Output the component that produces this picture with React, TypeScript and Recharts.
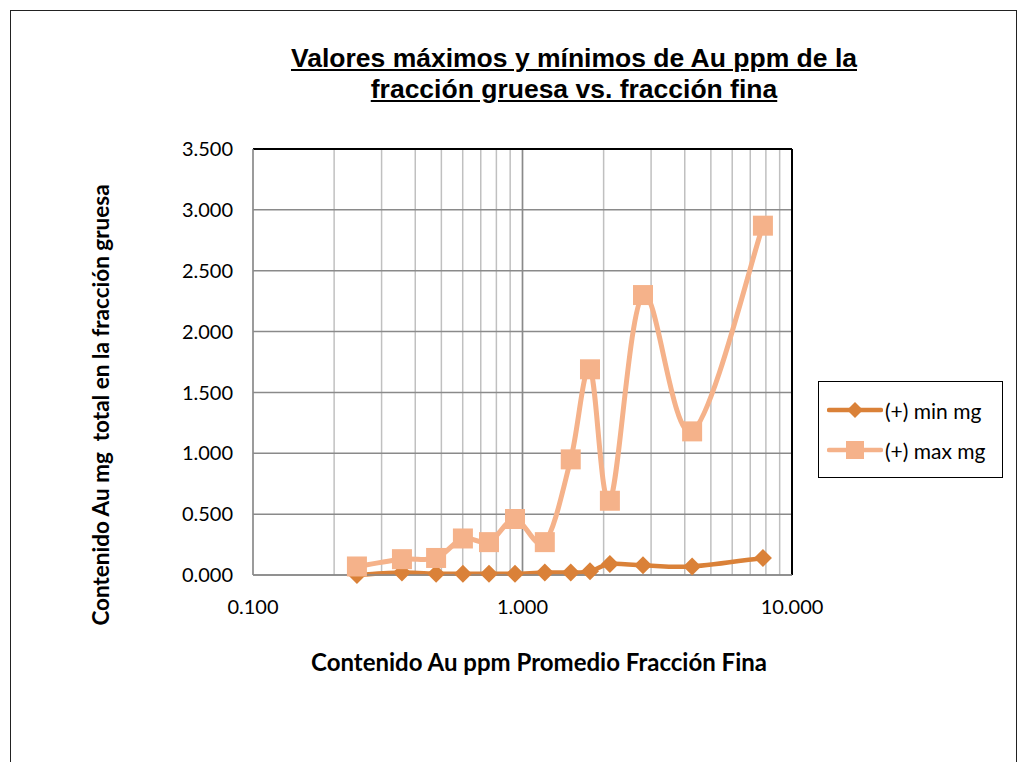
import {
  CartesianGrid,
  Legend,
  Line,
  LineChart,
  ReferenceLine,
  XAxis,
  YAxis,
} from 'recharts'

// Au ppm promedio fracción fina (x) vs. contenido Au mg en fracción gruesa (y)
const auFina = [0.243, 0.357, 0.478, 0.601, 0.751, 0.938, 1.21, 1.51, 1.78, 2.11, 2.8, 4.26, 7.8]
const minMg = [0.0, 0.02, 0.01, 0.01, 0.01, 0.01, 0.02, 0.02, 0.03, 0.09, 0.08, 0.07, 0.14]
const maxMg = [0.07, 0.13, 0.14, 0.3, 0.27, 0.46, 0.27, 0.95, 1.69, 0.61, 2.3, 1.18, 2.87]

const xTicks = [0.1, 0.2, 0.3, 0.4, 0.5, 0.6, 0.7, 0.8, 0.9, 1, 2, 3, 4, 5, 6, 7, 8, 9, 10]
const xMajor = [0.1, 1, 10]
const yTicks = [0, 0.5, 1, 1.5, 2, 2.5, 3, 3.5]

const data = auFina.map((x, i) => ({ x, min: minMg[i], max: maxMg[i] }))

const MIN_COLOR = '#DA8138'
const MAX_COLOR = '#F5B28A'
const FONT = 'Lato, "Open Sans", sans-serif'

// smoothed line like the spreadsheet's "smoothed line" option
const smoothCurve = (context: any) => {
  let pts: [number, number][] = []
  return {
    areaStart() {},
    areaEnd() {},
    lineStart() {
      pts = []
    },
    lineEnd() {
      if (!pts.length) return
      context.moveTo(pts[0][0], pts[0][1])
      for (let i = 0; i < pts.length - 1; i++) {
        const p0 = pts[Math.max(i - 1, 0)]
        const p1 = pts[i]
        const p2 = pts[i + 1]
        const p3 = pts[Math.min(i + 2, pts.length - 1)]
        context.bezierCurveTo(
          p1[0] + (p2[0] - p0[0]) / 6,
          p1[1] + (p2[1] - p0[1]) / 6,
          p2[0] - (p3[0] - p1[0]) / 6,
          p2[1] - (p3[1] - p1[1]) / 6,
          p2[0],
          p2[1]
        )
      }
    },
    point(x: number, y: number) {
      pts.push([+x, +y])
    },
  }
}

const Diamond = ({ cx, cy, index }: any) => (
  <path
    key={`d-${index}`}
    d={`M${cx},${cy - 9} L${cx + 9},${cy} L${cx},${cy + 9} L${cx - 9},${cy} Z`}
    fill={MIN_COLOR}
  />
)

const Square = ({ cx, cy, index }: any) => (
  <rect key={`s-${index}`} x={cx - 10} y={cy - 10} width={20} height={20} fill={MAX_COLOR} />
)

function LegendBox() {
  const items = [
    { label: '(+) min mg', color: MIN_COLOR, shape: 'diamond' },
    { label: '(+) max mg', color: MAX_COLOR, shape: 'square' },
  ]
  return (
    <div
      style={{
        border: '1.5px solid #000',
        background: '#fff',
        width: 185,
        height: 97,
        boxSizing: 'border-box',
        paddingTop: 8,
        fontFamily: FONT,
        fontSize: 21,
        color: '#000',
      }}
    >
      {items.map((it) => (
        <div key={it.label} style={{ display: 'flex', alignItems: 'center', height: 40, marginLeft: 8 }}>
          <svg width={56} height={24}>
            <line x1={2} y1={12} x2={54} y2={12} stroke={it.color} strokeWidth={4.5} strokeLinecap='round' />
            {it.shape === 'diamond' ? (
              <path d='M28,4 L36,12 L28,20 L20,12 Z' fill={it.color} />
            ) : (
              <rect x={19} y={3} width={18} height={18} fill={it.color} />
            )}
          </svg>
          <span style={{ marginLeft: 2 }}>{it.label}</span>
        </div>
      ))}
    </div>
  )
}

export default function App() {
  return (
    <div style={{ position: 'absolute', left: 0, top: 0, width: 1024, height: 762, background: '#fff', overflow: 'hidden' }}>
      <div
        style={{
          position: 'absolute',
          left: 10,
          top: 10,
          width: 1007,
          height: 800,
          border: '1.5px solid #222',
          boxSizing: 'border-box',
        }}
      />
      <div
        style={{
          position: 'absolute',
          left: 224,
          top: 43,
          width: 700,
          textAlign: 'center',
          fontFamily: '"Liberation Sans", Arial, sans-serif',
          fontWeight: 'bold',
          fontSize: 26.5,
          lineHeight: '31px',
          textDecoration: 'underline',
          color: '#000',
        }}
      >
        Valores máximos y mínimos de Au ppm de la
        <br />
        fracción gruesa vs. fracción fina
      </div>
      <div
        style={{
          position: 'absolute',
          left: 100,
          top: 405,
          transform: 'translate(-50%, -50%) rotate(-90deg)',
          whiteSpace: 'pre',
          fontFamily: FONT,
          fontWeight: 'bold',
          fontSize: 22.5,
          color: '#000',
        }}
      >
        {'Contenido Au mg  total en la fracción gruesa'}
      </div>
      <div
        style={{
          position: 'absolute',
          left: 539,
          top: 661,
          transform: 'translate(-50%, -50%)',
          whiteSpace: 'nowrap',
          fontFamily: FONT,
          fontWeight: 'bold',
          fontSize: 24,
          color: '#000',
        }}
      >
        Contenido Au ppm Promedio Fracción Fina
      </div>
      <div style={{ position: 'absolute', left: 0, top: 0 }}>
        <LineChart
          width={1024}
          height={762}
          data={data}
          margin={{ top: 149, right: 232, bottom: 157, left: 193 }}
        >
          <CartesianGrid horizontal={false} stroke='#c0c0c0' strokeWidth={1.5} />
          <CartesianGrid vertical={false} stroke='#8a8a8a' strokeWidth={1.5} />
          <XAxis
            dataKey='x'
            type='number'
            scale='log'
            domain={[0.1, 10]}
            ticks={xTicks}
            interval={0}
            allowDataOverflow
            height={30}
            tickLine={false}
            tickSize={0}
            tickMargin={25}
            stroke='#8a8a8a'
            strokeWidth={1.5}
            tick={{ fill: '#000', fontSize: 20, fontFamily: FONT }}
            tickFormatter={(v: number) => (xMajor.includes(v) ? v.toFixed(3) : '')}
          />
          <YAxis
            type='number'
            domain={[0, 3.5]}
            ticks={yTicks}
            width={60}
            tickLine={false}
            tickSize={0}
            tickMargin={20}
            stroke='#8a8a8a'
            strokeWidth={1.5}
            tick={{ fill: '#000', fontSize: 20, fontFamily: FONT }}
            tickFormatter={(v: number) => v.toFixed(3)}
          />
          <ReferenceLine x={1} stroke='#8a8a8a' strokeWidth={1.5} />
          <ReferenceLine y={3.5} stroke='#000' strokeWidth={2} />
          <ReferenceLine x={10} stroke='#000' strokeWidth={2} />
          <Legend
            layout='vertical'
            align='center'
            verticalAlign='middle'
            content={() => <LegendBox />}
            wrapperStyle={{ left: 818, top: 381, width: 185, height: 97 }}
          />
          <Line
            name='(+) min mg'
            dataKey='min'
            type={smoothCurve as any}
            stroke={MIN_COLOR}
            strokeWidth={4.5}
            dot={Diamond}
            activeDot={false}
            isAnimationActive={false}
          />
          <Line
            name='(+) max mg'
            dataKey='max'
            type={smoothCurve as any}
            stroke={MAX_COLOR}
            strokeWidth={5}
            dot={Square}
            activeDot={false}
            isAnimationActive={false}
          />
        </LineChart>
      </div>
    </div>
  )
}
